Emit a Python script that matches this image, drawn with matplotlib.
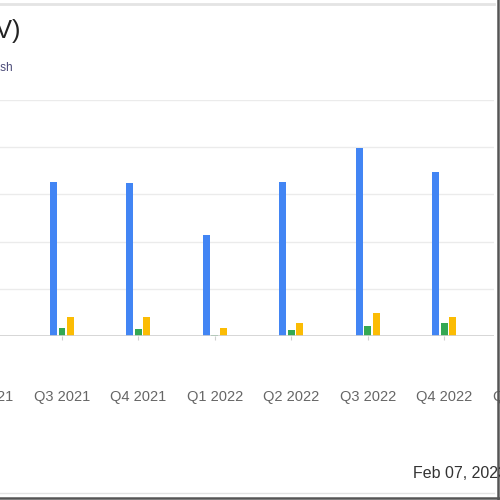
import matplotlib
matplotlib.use("Agg")
import matplotlib.pyplot as plt
from matplotlib.lines import Line2D
import numpy as np

# quarters shown on the axis (first and last are only partly in view)
quarters = ["Q2 2021", "Q3 2021", "Q4 2021", "Q1 2022", "Q2 2022",
            "Q3 2022", "Q4 2022", "Q1 2023"]
# bar groups that are visible (Q3 2021 .. Q4 2022)
bar_quarters = quarters[1:7]
blue_vals = [327, 325, 215, 327, 398, 348]
green_vals = [18, 14, 2, 13, 22, 27]
yellow_vals = [41, 40, 16, 28, 49, 40]

grid_ticks = [0, 100, 200, 300, 400, 500]

title_text = "Quarterly Results (NYSE:V)"
subtitle_text = "Revenue, Net Income and Cash"
date_text = "Feb 07, 2023"

BLUE = "#4285F4"
GREEN = "#34A853"
YELLOW = "#FBBC04"


def main():
    plt.rcParams['font.family'] = ['Liberation Sans', 'DejaVu Sans']
    fig = plt.figure(figsize=(5, 5), dpi=100)
    ax = fig.add_axes([-0.1208, 0.328, 1.1088, 0.472])
    plot_bars(ax)
    style_axes(ax)
    add_labels(fig, ax)
    add_frame(fig)
    fig.savefig("out.png", dpi=100)


def plot_bars(ax):
    """Draws the three bar series, grouped per quarter."""

    x = np.array([quarters.index(q) for q in bar_quarters], dtype=float)
    w = 0.09
    off = 0.111
    ax.bar(x - off, blue_vals, width=w, color=BLUE, zorder=3)
    ax.bar(x, green_vals, width=w, color=GREEN, zorder=3)
    ax.bar(x + off, yellow_vals, width=w, color=YELLOW, zorder=3)


def style_axes(ax):
    """Light horizontal gridlines, no spines, tiny ticks under groups."""

    ax.set_xlim(-0.6, 6.65)
    ax.set_ylim(0, 500)
    ax.set_yticks(grid_ticks)
    ax.set_yticklabels([])
    ax.tick_params(axis='y', length=0)
    ax.grid(axis='y', color='#ebebeb', linewidth=1, zorder=0)
    ax.axhline(0, color='#d0d0d0', linewidth=1.2, zorder=4)
    ax.set_xticks(range(7))
    ax.set_xticklabels([])
    ax.tick_params(axis='x', length=3, color='#cfcfcf', width=0.8)
    for side in ['top', 'right', 'left', 'bottom']:
        ax.spines[side].set_visible(False)


def add_labels(fig, ax):
    """Category labels, title pieces and date stamp."""

    trans = ax.get_xaxis_transform()
    for i, q in enumerate(quarters):
        ax.text(i, -0.258, q, transform=trans, ha='center', va='center',
                fontsize=10.5, color='#666666', clip_on=False)

    fig.text(20 / 500, 1 - 31 / 500, title_text, ha='right', va='center',
             fontsize=18, color='#222222')
    fig.text(13 / 500, 1 - 68 / 500, subtitle_text, ha='right', va='center',
             fontsize=8.5, color='#4a4a78')
    fig.text(413 / 500, 1 - 474 / 500, date_text, ha='left', va='center',
             fontsize=11.5, color='#333333')


def add_frame(fig):
    """Screenshot frame lines: light rules top and bottom, dark borders."""

    fig.add_artist(Line2D([0, 494 / 500], [1 - 4 / 500] * 2,
                          color='#e4e4e4', linewidth=2))
    fig.add_artist(Line2D([0, 494 / 500], [1 - 493 / 500] * 2,
                          color='#e4e4e4', linewidth=1))
    fig.add_artist(Line2D([497.5 / 500] * 2, [0, 1],
                          color='#555555', linewidth=1.8))
    fig.add_artist(Line2D([0, 1], [1 - 498 / 500] * 2,
                          color='#555555', linewidth=1.8))


if __name__ == "__main__":
    main()
